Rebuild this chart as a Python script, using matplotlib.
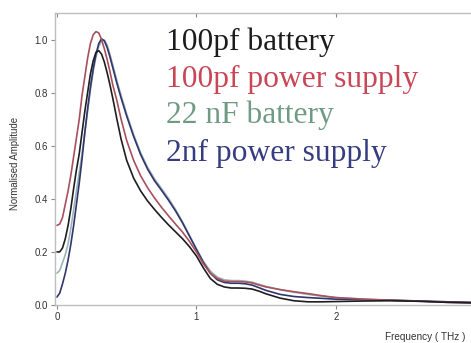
import matplotlib
matplotlib.use("Agg")
import matplotlib.pyplot as plt

# Frequency grid (THz) shared by all four spectra
freq = [0.00, 0.02, 0.04, 0.06, 0.08, 0.10, 0.12, 0.14, 0.16, 0.18, 0.20, 0.22,
        0.24, 0.26, 0.28, 0.30, 0.32, 0.34, 0.36, 0.38, 0.40, 0.43, 0.46, 0.50,
        0.55, 0.60, 0.65, 0.70, 0.75, 0.80, 0.85, 0.90, 0.95, 1.00, 1.05, 1.10,
        1.15, 1.20, 1.25, 1.30, 1.35, 1.40, 1.45, 1.50, 1.60, 1.70, 1.80, 1.90,
        2.00, 2.20, 2.40, 2.60, 2.80, 2.97]

bat_100pf = [0.200, 0.200, 0.215, 0.250, 0.300, 0.365, 0.440, 0.510, 0.570, 0.650,
             0.730, 0.800, 0.870, 0.920, 0.952, 0.958, 0.945, 0.915, 0.875, 0.830,
             0.780, 0.700, 0.625, 0.545, 0.478, 0.430, 0.392, 0.360, 0.330, 0.302,
             0.276, 0.250, 0.220, 0.185, 0.140, 0.100, 0.078, 0.068, 0.064, 0.064,
             0.063, 0.060, 0.052, 0.042, 0.026, 0.016, 0.012, 0.012, 0.013, 0.015,
             0.016, 0.014, 0.010, 0.008]

psu_100pf = [0.300, 0.305, 0.330, 0.380, 0.430, 0.490, 0.560, 0.630, 0.700, 0.790,
             0.860, 0.930, 0.985, 1.018, 1.030, 1.025, 1.000, 0.965, 0.925, 0.880,
             0.830, 0.770, 0.700, 0.620, 0.545, 0.487, 0.442, 0.403, 0.368, 0.336,
             0.305, 0.275, 0.240, 0.200, 0.155, 0.120, 0.100, 0.090, 0.088, 0.088,
             0.087, 0.083, 0.075, 0.068, 0.058, 0.050, 0.043, 0.035, 0.028, 0.022,
             0.018, 0.014, 0.010, 0.008]

bat_22nf = [0.120, 0.130, 0.160, 0.190, 0.230, 0.290, 0.360, 0.430, 0.500, 0.570,
            0.650, 0.730, 0.810, 0.880, 0.935, 0.975, 0.995, 0.998, 0.980, 0.945,
            0.905, 0.845, 0.790, 0.720, 0.642, 0.574, 0.519, 0.475, 0.439, 0.402,
            0.360, 0.314, 0.263, 0.212, 0.165, 0.128, 0.105, 0.095, 0.092, 0.092,
            0.090, 0.086, 0.078, 0.070, 0.058, 0.048, 0.040, 0.033, 0.028, 0.022,
            0.018, 0.015, 0.012, 0.010]

psu_2nf = [0.030, 0.045, 0.080, 0.120, 0.170, 0.230, 0.300, 0.380, 0.460, 0.550,
           0.650, 0.740, 0.820, 0.890, 0.945, 0.985, 1.003, 0.995, 0.970, 0.935,
           0.895, 0.835, 0.780, 0.712, 0.635, 0.567, 0.512, 0.468, 0.432, 0.395,
           0.355, 0.310, 0.260, 0.210, 0.160, 0.120, 0.095, 0.085, 0.082, 0.082,
           0.080, 0.075, 0.065, 0.055, 0.040, 0.032, 0.028, 0.025, 0.022, 0.020,
           0.018, 0.015, 0.012, 0.010]

labels = ["100pf battery", "100pf power supply", "22 nF battery", "2nf power supply"]
line_colors = ["#1e1e22", "#a8505c", "#9ab4b6", "#30366c"]
text_colors = ["#1c1c1e", "#c84656", "#6f9a84", "#363c80"]

x_ticks = [0, 1, 2]
y_ticks = [0.0, 0.2, 0.4, 0.6, 0.8, 1.0]

W, H = 471, 343
fig = plt.figure(figsize=(W / 100, H / 100), dpi=100)
ax = fig.add_axes([55 / W, 38 / H, 1 - 55 / W, 292 / H])

series = [bat_100pf, psu_100pf, bat_22nf, psu_2nf]
order = [2, 3, 1, 0]
for i in order:
    ax.plot(freq, series[i], color=line_colors[i], lw=1.2, solid_capstyle="round")

ax.set_xlim(-0.014, 2.97)
ax.set_ylim(0, 1.1)
ax.set_xticks(x_ticks)
ax.set_xticklabels([str(t) for t in x_ticks])
ax.set_yticks(y_ticks)
ax.set_yticklabels([f"{t:.1f}" for t in y_ticks])

spine_col = "#bdbdbd"
for s in ["left", "bottom", "top"]:
    ax.spines[s].set_color(spine_col)
    ax.spines[s].set_linewidth(1.0)
ax.spines["right"].set_visible(False)
ax.tick_params(axis="both", colors="#888888", labelcolor="#333333",
               labelsize=7, length=3, width=0.8, pad=2)
for lab in ax.get_xticklabels() + ax.get_yticklabels():
    lab.set_family("Liberation Sans")
ax.tick_params(axis="x", which="both", top=True)
for t in ax.xaxis.get_ticklines(minor=False)[1::2]:
    t.set_marker(3)

fig.text(15 / W, 1 - 163 / H, "Normalised Amplitude", rotation=90,
         ha="center", va="center", fontsize=6.9, color="#333333",
         family="Liberation Sans")
fig.text(385 / W, 1 - 337 / H, "Frequency ( THz )", ha="left", va="center",
         fontsize=7.2, color="#333333", family="Liberation Sans")

baselines = [50, 87, 123, 161]
for lab, col, b in zip(labels, text_colors, baselines):
    fig.text(166 / W, 1 - b / H, lab, color=col, fontsize=22.7,
             family="Liberation Serif", ha="left", va="baseline")

fig.savefig("out.png", dpi=100, facecolor="white")
